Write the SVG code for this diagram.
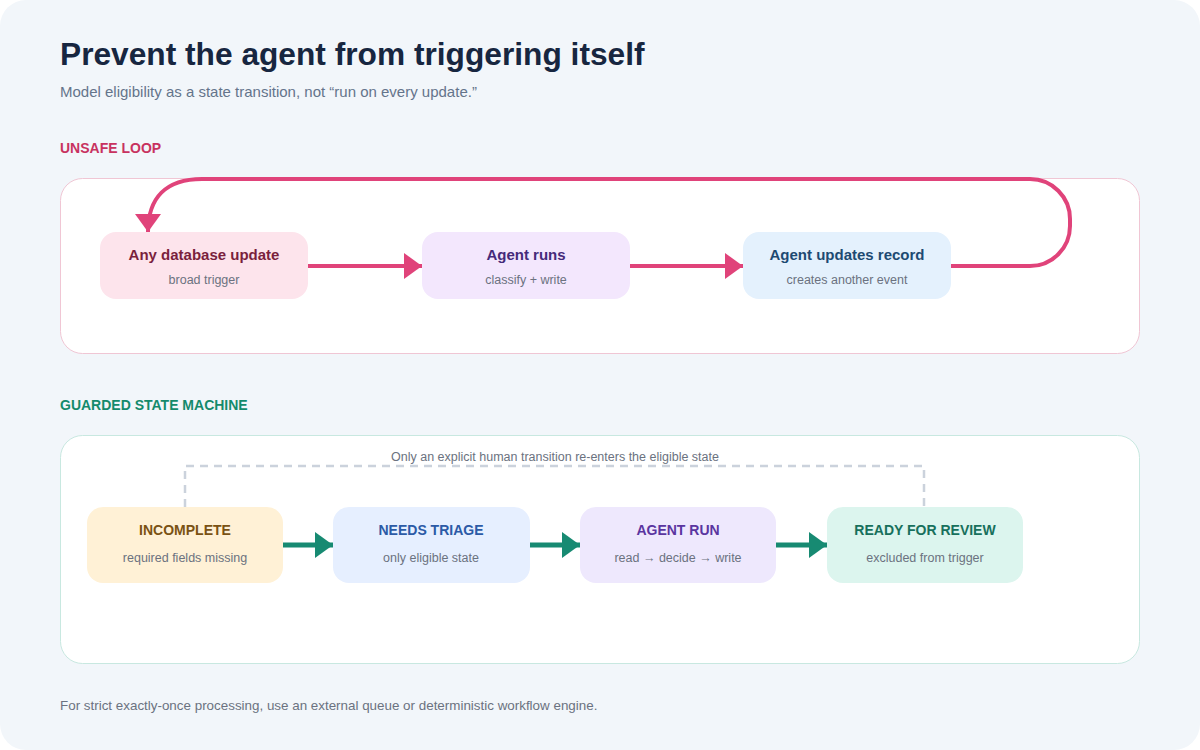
<svg xmlns="http://www.w3.org/2000/svg" width="1200" height="750" viewBox="0 0 1200 750">
<defs>
<style>
text{font-family:"Liberation Sans",Arial,sans-serif}
.t{font-size:15px;font-weight:bold;text-anchor:middle}
.s{font-size:12.5px;text-anchor:middle;fill:#6b7280}
.g{font-size:14px;font-weight:bold;text-anchor:middle}
.pk{stroke:#e0437a;stroke-width:4;fill:none}
.gr{stroke:#178a72;stroke-width:5;fill:none}
</style>
<marker id="ap" markerUnits="userSpaceOnUse" markerWidth="20" markerHeight="26" refX="18" refY="13" orient="auto"><path d="M0,0 L18,13 L0,26 Z" fill="#e0437a"/></marker>
<marker id="ag" markerUnits="userSpaceOnUse" markerWidth="20" markerHeight="26" refX="18" refY="13" orient="auto"><path d="M0,0 L18,13 L0,26 Z" fill="#178a72"/></marker>
</defs>
<rect x="0" y="0" width="1200" height="750" fill="#ffffff"/>
<rect x="0" y="0" width="1200" height="750" rx="26" fill="#f2f6fa"/>
<text x="60" y="65" font-size="31.7" font-weight="bold" fill="#172640">Prevent the agent from triggering itself</text>
<text x="60" y="97" font-size="15" fill="#64748b">Model eligibility as a state transition, not “run on every update.”</text>
<text x="60" y="153" font-size="14" font-weight="bold" fill="#c8325f">UNSAFE LOOP</text>
<rect x="60.5" y="178.5" width="1079" height="175" rx="22" fill="#ffffff" stroke="#f0c6d4"/>
<text x="60" y="410" font-size="14" font-weight="bold" fill="#148a6c">GUARDED STATE MACHINE</text>
<rect x="60.5" y="435.5" width="1079" height="228" rx="22" fill="#ffffff" stroke="#c8e8e0"/>
<g id="connectors">
<path class="pk" d="M308,266 H422" marker-end="url(#ap)"/>
<path class="pk" d="M630,266 H743" marker-end="url(#ap)"/>
<path class="pk" d="M951,266 H1030 A40,40 0 0 0 1070,226 V219 A40,40 0 0 0 1030,179 H202 C166,179 148,198 148,232" marker-end="url(#ap)"/>
<path class="gr" d="M283,545 H333" marker-end="url(#ag)"/>
<path class="gr" d="M530,545 H580" marker-end="url(#ag)"/>
<path class="gr" d="M776,545 H827" marker-end="url(#ag)"/>
<path d="M185,507 V466 H924 V507" fill="none" stroke="#cbd2dc" stroke-width="2.5" stroke-dasharray="8 6"/>
<text x="555" y="461" font-size="12.5" fill="#6b7280" text-anchor="middle">Only an explicit human transition re-enters the eligible state</text>
</g>
<g id="n-any">
<rect x="100" y="232" width="208" height="67" rx="16" fill="#fde4ec"/>
<text class="t" x="204" y="260" fill="#7a1f3d">Any database update</text>
<text class="s" x="204" y="284" fill="#7a6b75">broad trigger</text>
</g>
<g id="n-runs">
<rect x="422" y="232" width="208" height="67" rx="16" fill="#f3e7fd"/>
<text class="t" x="526" y="260" fill="#452a7a">Agent runs</text>
<text class="s" x="526" y="284">classify + write</text>
</g>
<g id="n-updates">
<rect x="743" y="232" width="208" height="67" rx="16" fill="#e4f1fd"/>
<text class="t" x="847" y="260" fill="#1d4a72">Agent updates record</text>
<text class="s" x="847" y="284">creates another event</text>
</g>
<g id="n-incomplete">
<rect x="87" y="507" width="196" height="76" rx="16" fill="#fff1d6"/>
<text class="g" x="185" y="535" fill="#7a5213">INCOMPLETE</text>
<text class="s" x="185" y="562">required fields missing</text>
</g>
<g id="n-triage">
<rect x="333" y="507" width="197" height="76" rx="16" fill="#e6efff"/>
<text class="g" x="431" y="535" fill="#2b5aa6">NEEDS TRIAGE</text>
<text class="s" x="431" y="562">only eligible state</text>
</g>
<g id="n-agentrun">
<rect x="580" y="507" width="196" height="76" rx="16" fill="#eee8fd"/>
<text class="g" x="678" y="535" fill="#5a35a0">AGENT RUN</text>
<text class="s" x="678" y="562">read → decide → write</text>
</g>
<g id="n-ready">
<rect x="827" y="507" width="196" height="76" rx="16" fill="#dcf5ee"/>
<text class="g" x="925" y="535" fill="#17705c">READY FOR REVIEW</text>
<text class="s" x="925" y="562">excluded from trigger</text>
</g>
<text x="60" y="710" font-size="13.4" fill="#6b7280">For strict exactly-once processing, use an external queue or deterministic workflow engine.</text>
</svg>
